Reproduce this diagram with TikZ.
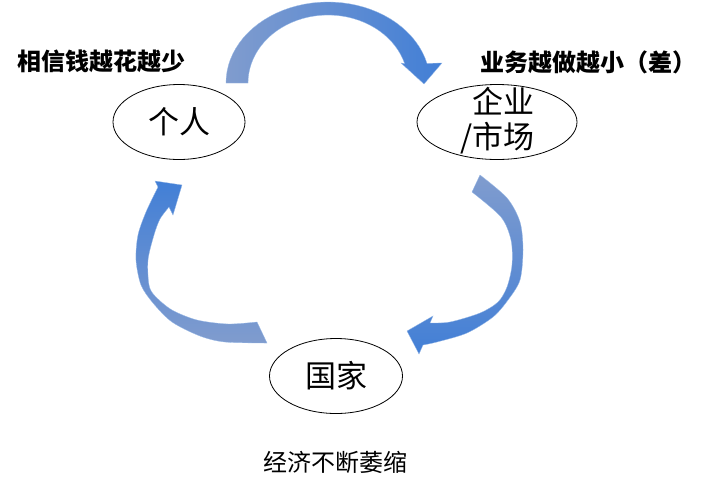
\documentclass[tikz,border=0pt]{standalone}
\usepackage{fontspec}
\newfontfamily\cjkfont{Noto Sans CJK SC}
\usetikzlibrary{shapes.geometric}
\definecolor{arrowlight}{RGB}{128,156,206}
\definecolor{arrowdark}{RGB}{66,127,214}
\begin{document}
\begin{tikzpicture}[x=1pt,y=-1pt,
  bubble/.style={draw=black,line width=0.8pt,ellipse,inner sep=0pt,fill=white},
  bubbletext/.style={font=\cjkfont\fontsize{31}{35}\selectfont,inner sep=0pt},
  sidetext/.style={font=\cjkfont\fontsize{24}{28}\selectfont,inner sep=0pt},
  bandarrow/.style={draw=arrowdark!55,line width=0.3pt}]
\useasboundingbox[fill=white] (0,0) rectangle (719,488);
% Drawing ellipses
% Line 1: person
\node[bubble,minimum width=132pt,minimum height=75pt] (person) at (179,122) {};
\node[bubbletext] (persontext) at (person.center) {个人};
% Line 2: firm / market
\node[bubble,minimum width=160pt,minimum height=75pt] (firm) at (497,122) {};
\node[bubbletext,align=right,anchor=east] (firmtext) at (535,121) {企业\\/市场};
% Line 3: state
\node[bubble,minimum width=133pt,minimum height=75pt] (state) at (336,376) {};
\node[bubbletext] (statetext) at (state.center) {国家};
% Done with ellipses; drawing arrows
% Arrow 1: person -> firm
\shadedraw[bandarrow,left color=arrowlight,right color=arrowdark]
  plot[domain=180:346,samples=40] ({328+102*cos(\x)},{83+81*sin(\x)})
  -- (442,63) -- (424,84) -- (401,63)
  -- plot[domain=343.4:180,samples=40] ({328+80*cos(\x)},{83+68*sin(\x)}) -- cycle;
% Arrow 2: firm -> state
\shadedraw[bandarrow,top color=arrowlight,bottom color=arrowdark]
  plot[smooth] coordinates {(480,175) (507,198) (520,222) (523,250) (520,280) (508,300) (493,317) (467,333) (437,342) (423,345)}
  -- (419,354) -- (407,331) -- (433,316) -- (430,323)
  -- plot[smooth] coordinates {(430,323) (450,322) (480,313) (498,302) (507,287) (512,265) (511,240) (501,217) (472,192)}
  -- cycle;
% Arrow 3: state -> person
\shadedraw[bandarrow,top color=arrowdark,bottom color=arrowlight]
  plot[smooth] coordinates {(158,187) (146,212) (138,235) (136,260) (141,285) (153,303) (172,322) (200,336) (225,342) (267,343)}
  -- (257,322)
  -- plot[smooth] coordinates {(257,322) (228,324) (197,320) (172,310) (155,296) (149,285) (148,260) (154,235) (160,219) (169,207)}
  -- (173,215) -- (182,185) -- (155,181) -- cycle;
% Done with arrows; drawing labels
\node[sidetext,font=\cjkfont\bfseries\fontsize{24}{28}\selectfont] (personlabel) at (101,61) {相信钱越花越少};
\node[sidetext,font=\cjkfont\bfseries\fontsize{24}{28}\selectfont] (firmlabel) at (588,62) {业务越做越小（差）};
\node[sidetext] (statelabel) at (335,462) {经济不断萎缩};
% Done with labels
\end{tikzpicture}
\end{document}
